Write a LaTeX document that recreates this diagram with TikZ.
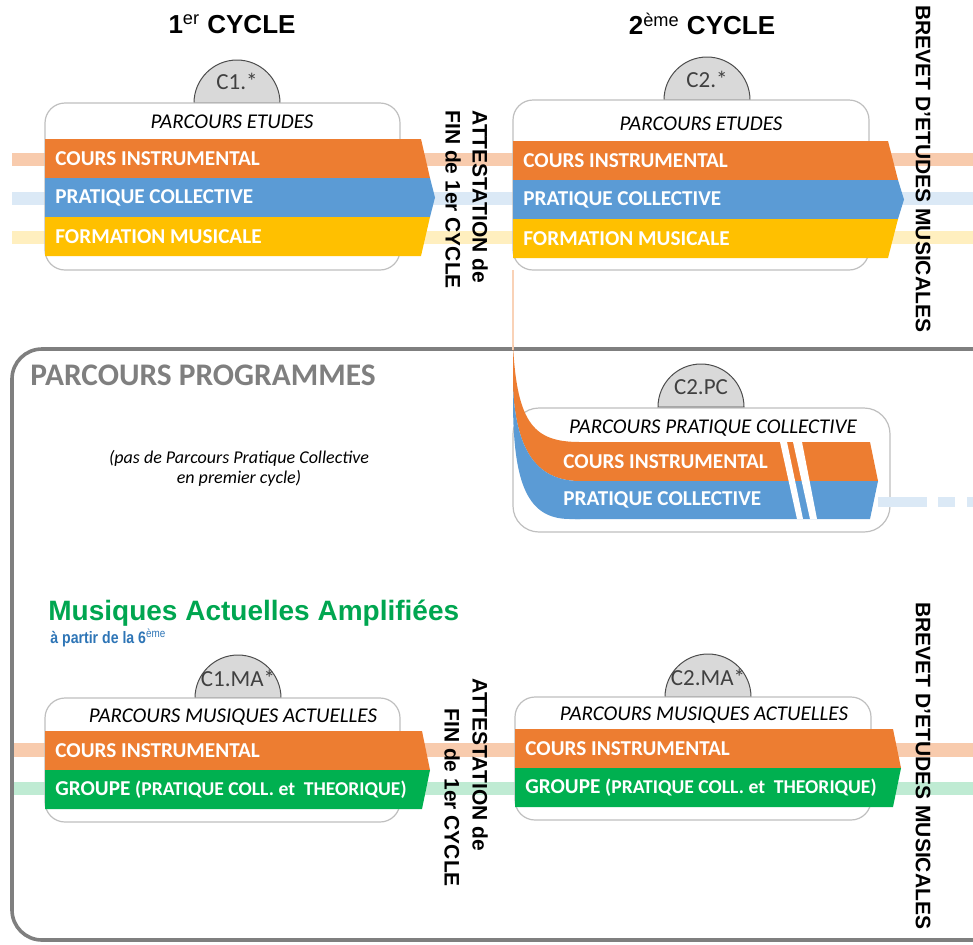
\documentclass[tikz,border=0pt]{standalone}
\usepackage{fontspec}
\setmainfont{Carlito}
\newfontfamily\arialfont{Liberation Sans}
\newfontfamily\narrowfont[FakeStretch=0.85]{Liberation Sans}
\definecolor{orangebar}{HTML}{ED7D31}
\definecolor{bluebar}{HTML}{5B9BD5}
\definecolor{yellowbar}{HTML}{FFC000}
\definecolor{greenbar}{HTML}{00B050}
\definecolor{titlegreen}{HTML}{00A650}
\definecolor{subblue}{HTML}{2E75B6}
\definecolor{framegray}{HTML}{7F7F7F}
\definecolor{tabgray}{HTML}{D9D9D9}
\colorlet{bandorange}{orangebar!40}
\colorlet{bandblue}{bluebar!22}
\colorlet{bandyellow}{yellowbar!25}
\colorlet{bandgreen}{greenbar!25}
\tikzset{
  bartext/.style={anchor=west, text=white, inner sep=0pt, font=\bfseries\fontsize{10.6}{12}\selectfont},
  headtext/.style={inner sep=0pt, font=\itshape\fontsize{10.5}{12}\selectfont},
  tabtext/.style={inner sep=0pt, text=black!75, font=\fontsize{11.5}{13}\selectfont},
  tabcap/.style={fill=tabgray, draw=black!70, line width=0.5pt},
  boxframe/.style={draw=black!25, fill=white, line width=0.6pt, rounded corners=10pt},
  sidetext/.style={rotate=-90, anchor=west, inner sep=0pt, font=\arialfont\bfseries\fontsize{10.5}{12}\selectfont},
  cycletitle/.style={inner sep=0pt, font=\arialfont\bfseries\fontsize{13}{15}\selectfont},
}

\begin{document}
\begin{tikzpicture}[x=0.5pt,y=-0.5pt]
    \useasboundingbox (0,0) rectangle (973,944);
    % faded bands behind everything
    \fill[bandorange] (12,153) rectangle (973,166);
    \fill[bandblue] (12,192) rectangle (973,205);
    \fill[bandyellow] (12,231) rectangle (973,244);
    \fill[bandorange] (12,743) rectangle (973,757);
    \fill[bandgreen] (12,782) rectangle (973,795);
    % outer frame
    \draw[framegray, line width=1.8pt, rounded corners=15pt] (973,349) -- (12,349) -- (12,940) -- (973,940);
    \node[anchor=west, inner sep=0pt, text=framegray, font=\bfseries\fontsize{15.7}{18}\selectfont] (prog) at (30,375) {PARCOURS PROGRAMMES};
    \node[align=center, inner sep=0pt, font=\itshape\fontsize{9}{10}\selectfont] (note) at (239,468) {(pas de Parcours Pratique Collective\\en premier cycle)};
    % titles
    \node[cycletitle] (title1) at (232,24) {1\textsuperscript{\mdseries er} CYCLE};
    \node[cycletitle] (title2) at (702,24) {2\textsuperscript{\mdseries ème} CYCLE};
    % first cycle, etudes
    \draw[tabcap] (194,103) arc[start angle=180, end angle=0, radius=21.5pt] -- cycle;
    \node[tabtext] (tabA) at (237,81) {C1.*};
    \draw[boxframe] (45,103) rectangle (400,270);
    \node[headtext] (headA) at (232,122) {PARCOURS ETUDES};
    \fill[orangebar] (45,139) -- (421,139) -- (430,178) -- (45,178) -- cycle;
    \fill[bluebar] (45,178) -- (430,178) -- (435,197.5) -- (430,217) -- (45,217) -- cycle;
    \fill[yellowbar] (45,217) -- (430,217) -- (421,256) -- (45,256) -- cycle;
    \node[bartext] (ciA) at (55,158.5) {COURS INSTRUMENTAL};
    \node[bartext] (pcA) at (55,197.5) {PRATIQUE COLLECTIVE};
    \node[bartext] (fmA) at (55,236.5) {FORMATION MUSICALE};
    \node[sidetext] (attA1) at (480,110) {ATTESTATION de};
    \node[sidetext] (attA2) at (453,110) {FIN de 1er CYCLE};
    % second cycle, etudes
    \draw[tabcap] (664,100) arc[start angle=180, end angle=0, radius=21.5pt] -- cycle;
    \node[tabtext] (tabB) at (707,79) {C2.*};
    \draw[boxframe] (513,100) rectangle (869,270);
    \node[headtext] (headB) at (701,124) {PARCOURS ETUDES};
    \fill[orangebar] (513,141) -- (888,141) -- (898,180) -- (513,180) -- cycle;
    \fill[bluebar] (513,180) -- (898,180) -- (904,199.5) -- (898,219) -- (513,219) -- cycle;
    \fill[yellowbar] (513,219) -- (898,219) -- (888,258) -- (513,258) -- cycle;
    \node[bartext] (ciB) at (523,160.5) {COURS INSTRUMENTAL};
    \node[bartext] (pcB) at (523,199.5) {PRATIQUE COLLECTIVE};
    \node[bartext] (fmB) at (523,238.5) {FORMATION MUSICALE};
    \node[sidetext] (brevA) at (923,5) {BREVET D’ETUDES MUSICALES};
    % second cycle, pratique collective
    \draw[orangebar!35, line width=1pt] (513,270) -- (513,350);
    \draw[tabcap] (658,407) arc[start angle=180, end angle=0, radius=21.5pt] -- cycle;
    \node[tabtext] (tabC) at (701,387) {C2.PC};
    \draw[boxframe, rounded corners=13pt] (513,408) rectangle (890,532);
    \draw[bandblue, line width=5pt, dash pattern=on 24.5pt off 5.5pt on 8.5pt off 6pt] (878,502) -- (973,502);
    \node[headtext] (headC) at (713,428) {PARCOURS PRATIQUE COLLECTIVE};
    \fill[orangebar] (513,345) .. controls (517,425) and (535,442) .. (580,442) -- (580,481) .. controls (540,481) and (516,455) .. (513,387) -- cycle;
    \fill[bluebar] (513,387) .. controls (516,455) and (540,481) .. (580,481) -- (580,519) -- (570,519) .. controls (528,519) and (513,485) .. (513,400) -- cycle;
    \fill[orangebar] (575,442) -- (870,442) -- (878,481) -- (575,481) -- cycle;
    \fill[bluebar] (575,481) -- (878,481) -- (870,519) -- (575,519) -- cycle;
    \fill[white] (780,442) -- (787,442) -- (803,519) -- (797,519) -- cycle;
    \fill[white] (793,442) -- (802,442) -- (817,519) -- (810,519) -- cycle;
    \node[bartext] (ciC) at (563,462) {COURS INSTRUMENTAL};
    \node[bartext] (pcC) at (563,500) {PRATIQUE COLLECTIVE};
    % musiques actuelles
    \node[anchor=west, inner sep=0pt, text=titlegreen, font=\arialfont\bfseries\fontsize{14}{16}\selectfont] (maa) at (48,613) {Musiques Actuelles Amplifiées};
    \node[anchor=west, inner sep=0pt, text=subblue, font=\narrowfont\bfseries\fontsize{8.3}{10}\selectfont] (maasub) at (50,638) {à partir de la 6\textsuperscript{\mdseries ème}};
    \draw[tabcap] (195,698) arc[start angle=180, end angle=0, radius=21.5pt] -- cycle;
    \node[tabtext] (tabD) at (238,678) {C1.MA*};
    \draw[boxframe] (45,698) rectangle (400,822);
    \node[headtext] (headD) at (233,717) {PARCOURS MUSIQUES ACTUELLES};
    \fill[orangebar] (45,731) -- (422,731) -- (430,770) -- (45,770) -- cycle;
    \fill[greenbar] (45,770) -- (430,770) -- (422,809) -- (45,809) -- cycle;
    \node[bartext] (ciD) at (55,750.5) {COURS INSTRUMENTAL};
    \node[bartext] (grD) at (55,789.5) {GROUPE {\fontsize{9.8}{11}\selectfont(PRATIQUE COLL. et~ THEORIQUE)}};
    \node[sidetext] (attD1) at (480,678) {ATTESTATION de};
    \node[sidetext] (attD2) at (452,708) {FIN de 1er CYCLE};
    \draw[tabcap] (665,697) arc[start angle=180, end angle=0, radius=21.5pt] -- cycle;
    \node[tabtext] (tabE) at (708,677) {C2.MA*};
    \draw[boxframe] (515,697) rectangle (871,820);
    \node[headtext] (headE) at (704,715) {PARCOURS MUSIQUES ACTUELLES};
    \fill[orangebar] (515,729) -- (893,729) -- (901,768) -- (515,768) -- cycle;
    \fill[greenbar] (515,768) -- (901,768) -- (893,807) -- (515,807) -- cycle;
    \node[bartext] (ciE) at (525,748.5) {COURS INSTRUMENTAL};
    \node[bartext] (grE) at (525,787.5) {GROUPE {\fontsize{9.8}{11}\selectfont(PRATIQUE COLL. et~ THEORIQUE)}};
    \node[sidetext] (brevB) at (923,602) {BREVET D’ETUDES MUSICALES};
\end{tikzpicture}
\end{document}
